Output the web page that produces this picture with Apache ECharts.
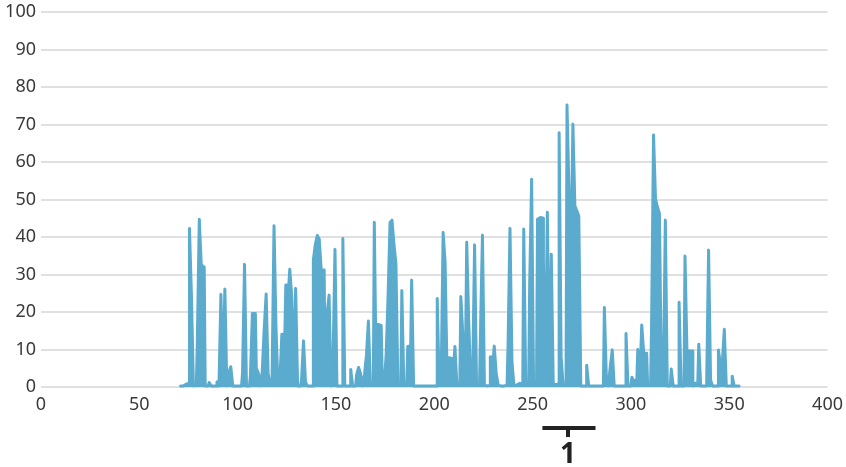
<!DOCTYPE html>
<html>
<head>
<meta charset="utf-8">
<script src="https://cdn.jsdelivr.net/npm/echarts@6/dist/echarts.min.js"></script>
<style>html,body{margin:0;padding:0;background:#fff;}#c{width:846px;height:467px;}</style>
</head>
<body>
<div id="c"></div>
<script>
// x tick labels and y tick labels
const xTicks = [0, 50, 100, 150, 200, 250, 300, 350, 400];
const yTicks = [0, 10, 20, 30, 40, 50, 60, 70, 80, 90, 100];
// annotation (data units)
const bracketStart = 255, bracketEnd = 282, bracketCenter = 268, bracketLabel = '1';
// series values [x, y]
const points = [
[71,0.3],[72,0.3],[73,0.3],[74,0.8],[75,1],[76,42.3],[77,24.5],[78,0.3],[79,0.5],[80,12.3],
[81,44.7],[82,32.5],[83,32],[84,0.3],[85,0.3],[86,1.2],[87,0.3],[88,0.3],[89,0.3],[90,1.4],
[91,0.3],[92,24.7],[93,0.5],[94,26.1],[95,0.3],[96,4],[97,5.4],[98,0.3],[99,0.3],[100,0.3],
[101,0.3],[102,0.3],[103,4],[104,32.7],[105,0.3],[106,0.3],[107,3],[108,19.6],[109,19.6],[110,5],
[111,3.8],[112,0.3],[113,4],[114,15.4],[115,24.8],[116,3.7],[117,0.5],[118,2],[119,43],[120,16],
[121,0.5],[122,2],[123,14.1],[124,14.1],[125,27.2],[126,27],[127,31.4],[128,24.3],[129,3],[130,26.3],
[131,0.3],[132,0.3],[133,2],[134,12.3],[135,1.3],[136,0.3],[137,0.3],[138,0.3],[139,33.9],[140,38],
[141,40.4],[142,39.4],[143,31.2],[144,31.2],[145,1],[146,19.6],[147,24.5],[148,0.3],[149,5.9],[150,36.7],
[151,0.3],[152,0.3],[153,0.3],[154,39.6],[155,0.3],[156,0.3],[157,0.3],[158,4.7],[159,0.3],[160,0.3],
[161,3.2],[162,5.2],[163,3.6],[164,0.3],[165,3.2],[166,8.5],[167,17.6],[168,0.5],[169,0.5],[170,43.9],
[171,0.5],[172,16.7],[173,16.4],[174,3.2],[175,0.5],[176,8.3],[177,24.1],[178,43.9],[179,44.5],[180,38],
[181,33],[182,0.5],[183,0.5],[184,25.7],[185,0.5],[186,0.5],[187,10.8],[188,11],[189,28.5],[190,0.3],
[191,0.3],[192,0.3],[193,0.3],[194,0.3],[195,0.3],[196,0.3],[197,0.3],[198,0.3],[199,0.3],[200,0.3],
[201,0.3],[202,23.6],[203,0.5],[204,2],[205,41.2],[206,33.4],[207,3.6],[208,7.8],[209,7.6],[210,3],
[211,10.8],[212,0.5],[213,1],[214,24.1],[215,14.1],[216,14],[217,38.6],[218,17.9],[219,1],[220,2],
[221,37.9],[222,0.5],[223,0.5],[224,14.8],[225,40.5],[226,0.5],[227,0.3],[228,0.5],[229,8.1],[230,7.6],
[231,10.9],[232,3.6],[233,0.5],[234,0.3],[235,0.3],[236,0.3],[237,0.5],[238,10.8],[239,42.3],[240,6.8],
[241,0.5],[242,0.5],[243,1],[244,1],[245,0.5],[246,42.1],[247,0.5],[248,0.5],[249,26.8],[250,55.4],
[251,0.5],[252,0.5],[253,44.7],[254,45.2],[255,45],[256,33.2],[257,0.5],[258,46.6],[259,0.5],[260,35.4],
[261,1],[262,0.5],[263,1],[264,67.8],[265,8.1],[266,0.5],[267,1],[268,75.2],[269,51.9],[270,51.9],
[271,70.1],[272,48.3],[273,47],[274,45.6],[275,0.3],[276,0.3],[277,0.3],[278,5.8],[279,0.3],[280,0.3],
[281,0.3],[282,0.3],[283,0.3],[284,0.3],[285,0.3],[286,0.3],[287,21.2],[288,2.6],[289,0.3],[290,5.4],
[291,9.9],[292,0.3],[293,0.3],[294,0.3],[295,0.3],[296,0.3],[297,0.3],[298,14.3],[299,0.3],[300,0.3],
[301,2.6],[302,1.5],[303,2],[304,10],[305,1],[306,16.5],[307,9.2],[308,9],[309,0.5],[310,0.5],
[311,16.3],[312,67.2],[313,50.1],[314,48],[315,46.3],[316,2],[317,0.5],[318,44.5],[319,0.3],[320,0.3],
[321,4.8],[322,0.3],[323,0.3],[324,0.3],[325,22.6],[326,0.3],[327,0.3],[328,34.9],[329,9.6],[330,9.6],
[331,9.6],[332,0.3],[333,1],[334,1],[335,11.4],[336,0.3],[337,0.3],[338,0.3],[339,0.3],[340,36.5],
[341,1.9],[342,0.3],[343,0.3],[344,0.3],[345,9.9],[346,6],[347,6.6],[348,15.4],[349,0.3],[350,0.3],
[351,0.3],[352,2.9],[353,0.3],[354,0.3],[355,0.3]
];

const chart = echarts.init(document.getElementById('c'), null, {renderer: 'canvas'});
const FONT = '"Noto Sans", "Liberation Sans", sans-serif';
const xStep = xTicks[1] - xTicks[0];
const yStep = yTicks[1] - yTicks[0];
chart.setOption({
  animation: false,
  grid: {left: 41, right: 17, top: 12, bottom: 80},
  xAxis: {
    type: 'value', min: xTicks[0], max: xTicks[xTicks.length - 1], interval: xStep,
    axisLine: {show: false}, axisTick: {show: false}, splitLine: {show: false},
    axisLabel: {color: '#3a3a3a', fontSize: 18, fontFamily: FONT, margin: 9}
  },
  yAxis: {
    type: 'value', min: yTicks[0], max: yTicks[yTicks.length - 1], interval: yStep,
    axisLine: {show: false}, axisTick: {show: false},
    splitLine: {lineStyle: {color: '#d6d6d6', width: 1.5}},
    axisLabel: {color: '#3a3a3a', fontSize: 18, fontFamily: FONT, margin: 5}
  },
  series: [{
    type: 'line',
    data: points,
    step: 'middle',
    showSymbol: false,
    symbol: 'none',
    lineStyle: {color: '#5aabcd', width: 3, cap: 'round', join: 'round'},
    areaStyle: {color: '#5aabcd', opacity: 1},
    itemStyle: {color: '#5aabcd'}
  }]
});

const p0 = chart.convertToPixel({xAxisIndex: 0, yAxisIndex: 0}, [bracketStart, 0]);
const p1 = chart.convertToPixel({xAxisIndex: 0, yAxisIndex: 0}, [bracketEnd, 0]);
const pc = chart.convertToPixel({xAxisIndex: 0, yAxisIndex: 0}, [bracketCenter, 0]);
const by = p0[1] + 41;
chart.setOption({
  graphic: [
    {type: 'line', shape: {x1: p0[0], y1: by, x2: p1[0], y2: by}, style: {stroke: '#222', lineWidth: 4}},
    {type: 'line', shape: {x1: pc[0], y1: by, x2: pc[0], y2: by + 9}, style: {stroke: '#222', lineWidth: 4}},
    {type: 'text', x: pc[0], y: by + 13, style: {text: bracketLabel, fill: '#222', font: 'bold 28px ' + FONT, align: 'center', verticalAlign: 'top'}}
  ]
});
</script>
</body>
</html>
